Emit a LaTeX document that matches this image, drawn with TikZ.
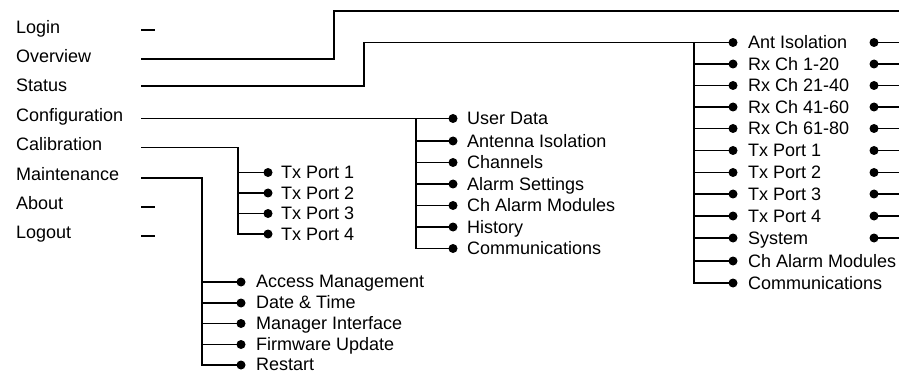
\documentclass[tikz,border=0pt]{standalone}
\usepackage{fontspec}
\setmainfont{Liberation Sans}
\begin{document}
\begin{tikzpicture}[x=1pt,y=-1pt,
  ln/.style={line width=1.9pt,line cap=rect},
  dot/.style={circle,fill=black,inner sep=0pt,minimum size=9pt},
  lbl/.style={anchor=base west,inner sep=0pt,font=\fontsize{18}{21}\selectfont},
  item/.style={anchor=base west,inner sep=0pt,font=\fontsize{18}{21}\selectfont}]
\useasboundingbox (0,0) rectangle (899,374);

% main menu labels
\node[lbl] (login) at (16,33.5) {Login};
\node[lbl] (overview) at (16,63) {Overview};
\node[lbl] (status) at (16,92) {Status};
\node[lbl] (config) at (16,122) {Configuration};
\node[lbl] (calib) at (16,151) {Calibration};
\node[lbl] (maint) at (16,180.5) {Maintenance};
\node[lbl] (about) at (16,209.5) {About};
\node[lbl] (logout) at (16,238.5) {Logout};

% short dashes
\coordinate (loginA) at (142,30);  \coordinate (loginB) at (154,30);
\coordinate (aboutA) at (142,207); \coordinate (aboutB) at (154,207);
\coordinate (logoutA) at (142,236);\coordinate (logoutB) at (154,236);
\draw[ln] (loginA) -- (loginB);
\draw[ln] (aboutA) -- (aboutB);
\draw[ln] (logoutA) -- (logoutB);

% Overview
\coordinate (ovS) at (142,59);
\coordinate (ovE) at (899,10.7);
\draw[ln] (ovS) -| (334,10.7) -- (ovE);

% Status submenu
\coordinate (stS) at (142,86);
\coordinate (stB) at (694,42.5);
\foreach \t/\y/\r [count=\i] in {Ant Isolation/42.5/1, Rx Ch 1-20/64/1, Rx Ch 21-40/85.5/1,
  Rx Ch 41-60/107/1, Rx Ch 61-80/128.5/1, Tx Port 1/150.5/1, Tx Port 2/172.5/1,
  Tx Port 3/194/1, Tx Port 4/216/1, System/238/1, Ch Alarm Modules/261/0, Communications/283/0}{
  \node[dot] (st\i) at (733,\y) {};
  \node[item] (st\i t) at (748,\y+6.3) {\t};
  \ifnum\r=1
    \node[dot] (rt\i) at (874,\y) {};
    \coordinate (rt\i e) at (899,\y);
    \draw[ln] (rt\i) -- (rt\i e);
  \fi
}
\draw[ln] (stS) -| (364,42.5) -- (st1);
\draw[ln] (stB) |- (st12);
\foreach \i in {2,...,11}{\draw[ln] (stB |- st\i) -- (st\i);}

% Configuration submenu
\coordinate (cfS) at (142,118.5);
\coordinate (cfB) at (416,118.5);
\foreach \t/\y [count=\i] in {User Data/118.5, Antenna Isolation/141, Channels/162.5,
  Alarm Settings/184, Ch Alarm Modules/205.5, History/227, Communications/248.5}{
  \node[dot] (cf\i) at (453,\y) {};
  \node[item] (cf\i t) at (467,\y+6.3) {\t};
}
\draw[ln] (cfS) -- (cf1);
\draw[ln] (cfB) |- (cf7);
\foreach \i in {2,...,6}{\draw[ln] (cfB |- cf\i) -- (cf\i);}

% Calibration submenu
\coordinate (caS) at (142,147.5);
\coordinate (caB) at (238,147.5);
\foreach \t/\y [count=\i] in {Tx Port 1/172.5, Tx Port 2/193, Tx Port 3/213.5, Tx Port 4/234}{
  \node[dot] (ca\i) at (268,\y) {};
  \node[item] (ca\i t) at (281,\y+6.3) {\t};
}
\draw[ln] (caS) -- (caB) |- (ca4);
\foreach \i in {1,...,3}{\draw[ln] (caB |- ca\i) -- (ca\i);}

% Maintenance submenu
\coordinate (maS) at (142,178);
\coordinate (maB) at (202,178);
\foreach \t/\y [count=\i] in {Access Management/282, Date \& Time/303, Manager Interface/323.5,
  Firmware Update/344.5, Restart/365}{
  \node[dot] (ma\i) at (241,\y) {};
  \node[item] (ma\i t) at (256,\y+5.8) {\t};
}
\draw[ln] (maS) -- (maB) |- (ma5);
\foreach \i in {1,...,4}{\draw[ln] (maB |- ma\i) -- (ma\i);}
\end{tikzpicture}
\end{document}
